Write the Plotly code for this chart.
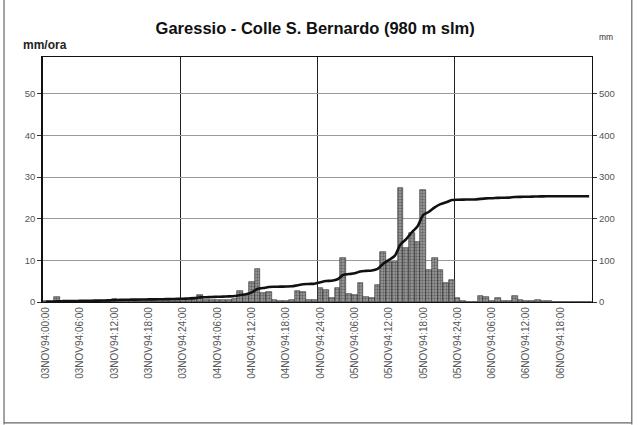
import numpy as np
import plotly.graph_objects as go

# hourly rainfall (mm/ora), 96 hourly bins from 03NOV94 00:00
hourly_rain = [
    0.3, 0.3, 1.1, 0.3, 0.2, 0.2, 0.3, 0.2, 0.2, 0.2, 0.2, 0.3,
    0.8, 0.5, 0.3, 0.2, 0.2, 0.2, 0.2, 0.2, 0.2, 0.2, 0.3, 0.3,
    0.5, 0.6, 0.8, 1.7, 0.5, 0.5, 0.5, 0.5, 0.5, 0.8, 2.7, 1.5,
    4.7, 8.0, 2.2, 2.5, 0.6, 0.3, 0.3, 0.5, 2.6, 2.5, 0.6, 0.6,
    3.3, 3.0, 1.0, 3.3, 10.5, 2.0, 1.8, 4.6, 1.3, 1.0, 4.0, 12.0,
    9.5, 9.5, 27.3, 12.9, 16.5, 14.5, 27.0, 7.7, 10.5, 7.7, 4.5, 5.3,
    0.9, 0.3, 0.1, 0.1, 1.5, 1.2, 0.3, 1.0, 0.3, 0.3, 1.4, 0.4,
    0.2, 0.3, 0.4, 0.3, 0.2, 0.1, 0.0, 0.0, 0.0, 0.0, 0.0, 0.0,
]
hours = list(range(len(hourly_rain)))
cumulative_rain = np.cumsum(hourly_rain)

tick_hours = list(range(0, 96, 6))
tick_labels = [
    "03NOV94:00:00", "03NOV94:06:00", "03NOV94:12:00", "03NOV94:18:00",
    "03NOV94:24:00", "04NOV94:06:00", "04NOV94:12:00", "04NOV94:18:00",
    "04NOV94:24:00", "05NOV94:06:00", "05NOV94:12:00", "05NOV94:18:00",
    "05NOV94:24:00", "06NOV94:06:00", "06NOV94:12:00", "06NOV94:18:00",
]
day_boundaries = [23.5, 47.5, 71.5]

FONT = "Liberation Sans, Arial, sans-serif"

fig = go.Figure()
fig.add_trace(go.Bar(
    x=hours, y=hourly_rain, width=1.0,
    marker=dict(color="#8a8a8a",
                line=dict(color="#2a2a2a", width=0.6),
                pattern=dict(shape=".", fgcolor="#2a2a2a", bgcolor="#a0a0a0",
                             size=3, solidity=0.5)),
    yaxis="y", showlegend=False,
))
fig.add_trace(go.Scatter(
    x=hours, y=cumulative_rain, mode="lines",
    line=dict(color="#111111", width=2.6, shape="spline", smoothing=0.8),
    yaxis="y2", showlegend=False,
))

fig.update_layout(
    width=638, height=425,
    margin=dict(l=43, r=46, t=57, b=123, autoexpand=False),
    paper_bgcolor="white", plot_bgcolor="white",
    font=dict(family=FONT, color="#444444", size=9),
    bargap=0,
    title=dict(text="<b>Garessio - Colle S. Bernardo (980 m slm)</b>",
               x=0.494, xanchor="center", y=0.934, yanchor="middle",
               font=dict(size=16.5, color="#111111", family=FONT)),
    xaxis=dict(range=[-0.5, 95.5], tickmode="array", tickvals=tick_hours,
               ticktext=tick_labels, tickangle=-90, showgrid=False,
               showline=True, linecolor="#111111", linewidth=1.2, mirror=True,
               ticks="", zeroline=False, automargin=False,
               tickfont=dict(size=10, color="#555555"),
               minor=dict(tickmode="array", tickvals=day_boundaries, showgrid=True,
                          gridcolor="#222222", gridwidth=1, ticks="")),
    yaxis=dict(range=[0, 58.8], tickvals=[0, 10, 20, 30, 40, 50],
               showgrid=True, gridcolor="#9a9a9a", gridwidth=1,
               showline=True, linecolor="#111111", linewidth=1.5,
               ticks="outside", ticklen=4, tickcolor="#333333",
               zeroline=False, automargin=False,
               tickfont=dict(size=9.5, color="#555555")),
    yaxis2=dict(range=[0, 588], tickvals=[0, 100, 200, 300, 400, 500],
                overlaying="y", side="right", showgrid=False,
                showline=True, linecolor="#111111", linewidth=1.2,
                ticks="outside", ticklen=4, tickcolor="#333333",
                zeroline=False, automargin=False,
                tickfont=dict(size=9.5, color="#555555")),
    annotations=[
        dict(text="<b>mm/ora</b>", xref="paper", yref="paper",
             x=-0.04, y=1.05, xanchor="left", yanchor="middle", showarrow=False,
             font=dict(size=12, color="#222222", family=FONT)),
        dict(text="mm", xref="paper", yref="paper",
             x=1.01, y=1.08, xanchor="left", yanchor="middle", showarrow=False,
             font=dict(size=8.5, color="#333333", family=FONT)),
    ],
    shapes=[
        dict(type="line", xref="paper", yref="paper", x0=-0.071, x1=-0.071,
             y0=-0.5, y1=1.24, line=dict(color="#666666", width=1.2)),
        dict(type="line", xref="paper", yref="paper", x0=1.0725, x1=1.0725,
             y0=-0.5, y1=1.24, line=dict(color="#666666", width=1.2)),
        dict(type="line", xref="paper", yref="paper", x0=-0.071, x1=1.0725,
             y0=-0.493, y1=-0.493, line=dict(color="#666666", width=1.2)),
    ],
)

fig.write_html("out.html", config={"displayModeBar": False},
               post_script="document.body.style.margin='0';document.body.style.overflow='hidden';")
